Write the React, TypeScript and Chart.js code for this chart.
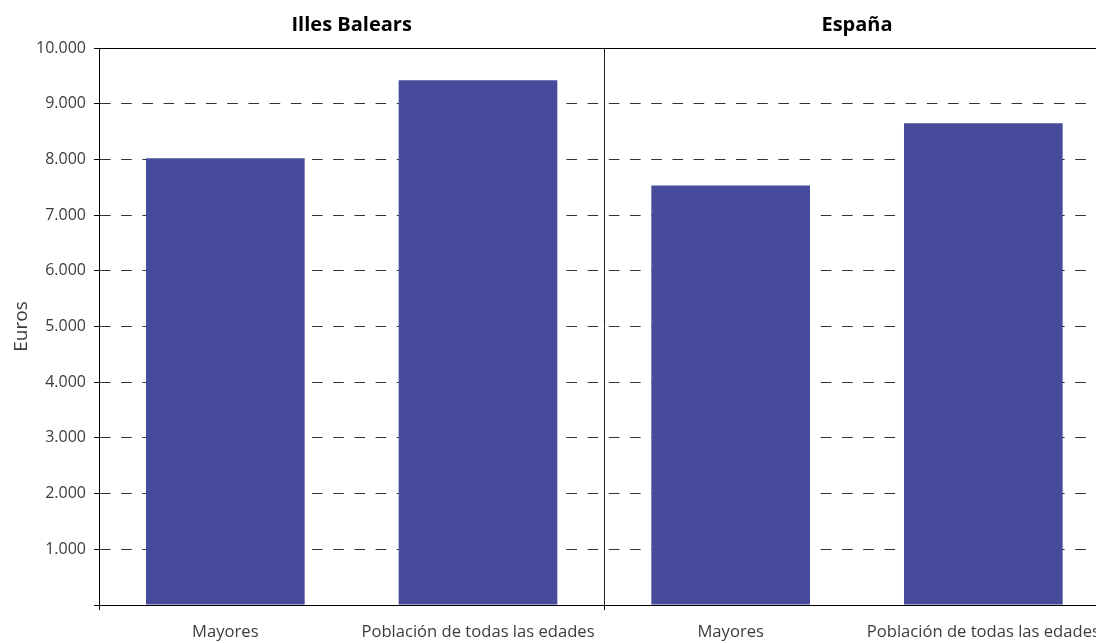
import React, { useEffect, useRef } from 'react';
import { Chart, registerables } from 'chart.js';

Chart.register(...registerables);

const categories = [
  'Mayores',
  'Población de todas las edades',
  'Mayores',
  'Población de todas las edades',
];
const panels = ['Illes Balears', 'España'];
const values = [8020, 9420, 7530, 8650];
const yTicks = [0, 1000, 2000, 3000, 4000, 5000, 6000, 7000, 8000, 9000, 10000];
const yTickLabels = ['', '1.000', '2.000', '3.000', '4.000', '5.000', '6.000', '7.000', '8.000', '9.000', '10.000'];
const yTitle = 'Euros';

const FONT = '"Open Sans", "DejaVu Sans", sans-serif';

export default function App() {
  const ref = useRef<HTMLCanvasElement | null>(null);

  useEffect(() => {
    const canvas = ref.current;
    if (!canvas) return;

    const panelTitles = {
      id: 'panelTitles',
      afterDraw(chart: any) {
        const x = chart.scales.x;
        const ctx = chart.ctx;
        ctx.save();
        ctx.font = `bold 20px ${FONT}`;
        ctx.fillStyle = '#000';
        ctx.textAlign = 'center';
        ctx.textBaseline = 'middle';
        panels.forEach((p, i) => {
          const cx = (x.getPixelForTick(i * 2) + x.getPixelForTick(i * 2 + 1)) / 2;
          ctx.fillText(p, cx, 25);
        });
        ctx.restore();
      },
    };

    const chart = new Chart(canvas, {
      type: 'bar',
      data: {
        labels: categories,
        datasets: [
          {
            data: values,
            backgroundColor: '#464c9b',
            borderWidth: 0,
            categoryPercentage: 1,
            barPercentage: 0.628,
          },
        ],
      },
      options: {
        responsive: false,
        animation: false,
        layout: { padding: { top: 48, right: 1, left: 0, bottom: 0 } },
        plugins: {
          legend: { display: false },
          tooltip: { enabled: false },
          title: { display: false },
        },
        scales: {
          x: {
            offset: true,
            afterFit: (s: any) => {
              s.height = 38;
            },
            grid: {
              offset: true,
              drawOnChartArea: true,
              lineWidth: 1,
              tickLength: 5,
              color: (c: any) => (c.index === 2 ? '#222' : c.index === 0 ? '#000' : 'rgba(0,0,0,0)'),
              tickColor: (c: any) => (c.index === 0 || c.index === 2 ? '#000' : 'rgba(0,0,0,0)'),
            },
            border: { display: true, color: '#000', width: 1 },
            ticks: {
              maxRotation: 0,
              minRotation: 0,
              autoSkip: false,
              color: '#3c3c3c',
              font: { family: FONT, size: 16.6 },
              padding: 12,
            },
          },
          y: {
            min: 0,
            max: 10000,
            afterFit: (s: any) => {
              s.width = 99;
            },
            afterBuildTicks: (s: any) => {
              s.ticks = yTicks.map((v) => ({ value: v }));
            },
            grid: {
              lineWidth: 1,
              tickLength: 5,
              color: (c: any) => (c.tick && c.tick.value === 10000 ? '#000' : '#333'),
              tickColor: '#000',
            },
            border: {
              display: true,
              color: '#000',
              width: 1,
              dash: (c: any) => (c.tick && (c.tick.value === 10000 || c.tick.value === 0) ? [] : [10.6, 10.6]),
            },
            ticks: {
              color: '#3c3c3c',
              font: { family: FONT, size: 16 },
              padding: 8,
              callback: (v: any) => {
                const i = yTicks.indexOf(Number(v));
                return i >= 0 ? yTickLabels[i] : '';
              },
            },
            title: {
              display: true,
              text: yTitle,
              color: '#3c3c3c',
              font: { family: FONT, size: 19 },
              padding: { top: 10, bottom: 0 },
            },
          },
        },
      },
      plugins: [panelTitles],
    });

    return () => chart.destroy();
  }, []);

  return (
    <div
      style={{
        position: 'absolute',
        left: 0,
        top: 0,
        width: 1096,
        height: 643,
        overflow: 'hidden',
        background: '#fff',
      }}
    >
      <canvas ref={ref} width={1112} height={643} style={{ display: 'block', width: 1112, height: 643 }} />
    </div>
  );
}
